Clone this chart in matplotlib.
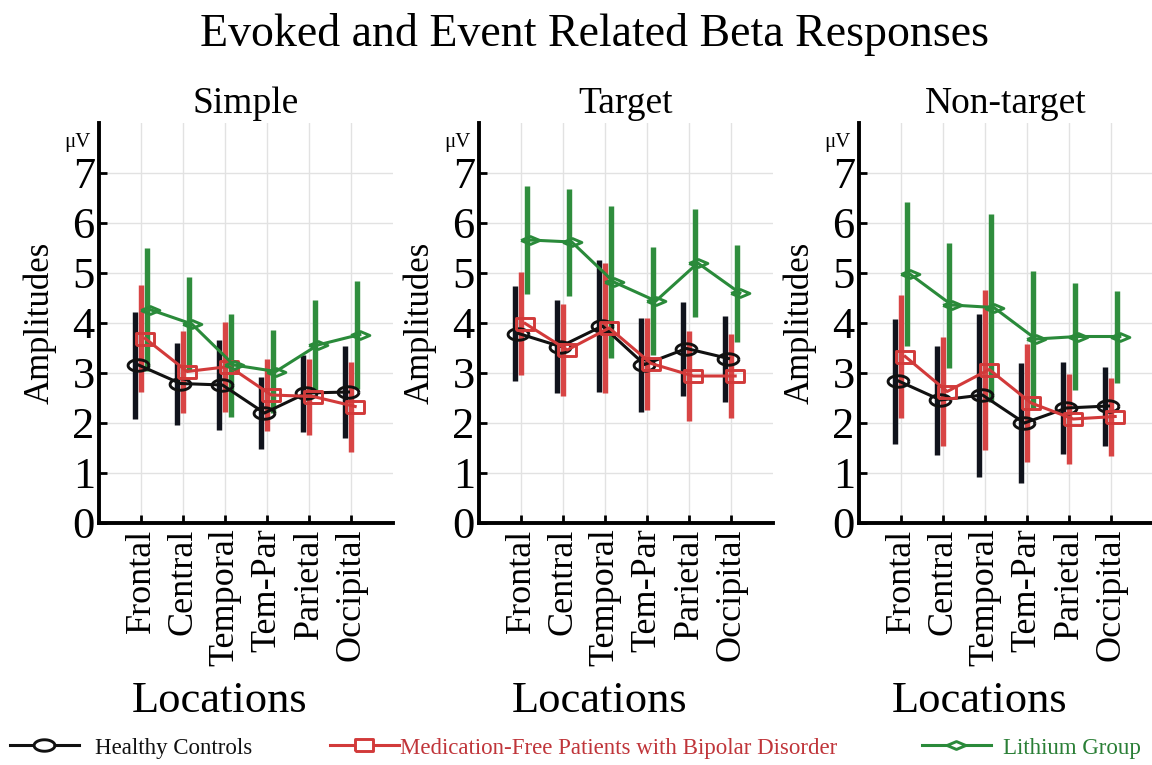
import matplotlib
matplotlib.use("Agg")
import matplotlib.pyplot as plt
import numpy as np
from matplotlib.lines import Line2D

plt.rcParams['font.family'] = ['Liberation Serif', 'DejaVu Serif']

locations = ["Frontal", "Central", "Temporal", "Tem-Par", "Parietal", "Occipital"]
conditions = ["Simple", "Target", "Non-target"]
groups = ["Healthy Controls", "Medication-Free Patients with Bipolar Disorder", "Lithium Group"]

# mean amplitude (uV) and error per condition (rows) and location (cols)
hc_mean = [[3.16, 2.79, 2.76, 2.20, 2.60, 2.62],
           [3.79, 3.53, 3.94, 3.17, 3.49, 3.29],
           [2.84, 2.46, 2.56, 2.00, 2.30, 2.34]]
hc_err = [[1.07, 0.82, 0.90, 0.72, 0.77, 0.92],
          [0.95, 0.93, 1.32, 0.94, 0.94, 0.86],
          [1.25, 1.09, 1.63, 1.20, 0.92, 0.79]]

mf_mean = [[3.69, 3.03, 3.13, 2.56, 2.53, 2.33],
           [3.99, 3.46, 3.90, 3.19, 2.94, 2.94],
           [3.33, 2.63, 3.07, 2.40, 2.08, 2.13]]
mf_err = [[1.07, 0.82, 0.90, 0.72, 0.76, 0.90],
          [1.03, 0.92, 1.30, 0.92, 0.90, 0.84],
          [1.23, 1.09, 1.60, 1.18, 0.90, 0.78]]

li_mean = [[4.27, 3.98, 3.16, 3.03, 3.56, 3.77],
           [5.66, 5.62, 4.82, 4.44, 5.20, 4.60],
           [4.98, 4.36, 4.31, 3.68, 3.73, 3.73]]
li_err = [[1.23, 0.94, 1.03, 0.83, 0.90, 1.08],
          [1.08, 1.07, 1.52, 1.08, 1.08, 0.97],
          [1.44, 1.25, 1.88, 1.37, 1.07, 0.92]]

colors = ["#111111", "#d23a3a", "#2a8a3a"]
bar_colors = ["#10131c", "#d84545", "#2f8d3d"]
text_colors = ["#111111", "#c0353a", "#2a7f36"]

# flattened open markers
t = np.linspace(0, 2 * np.pi, 40)
ellipse = list(zip(np.cos(t), 0.55 * np.sin(t)))
rect = [(-1, -0.62), (1, -0.62), (1, 0.62), (-1, 0.62), (-1, -0.62)]
diamond = [(-1, 0), (0, -0.42), (1, 0), (0, 0.42), (-1, 0)]
markers = [ellipse, rect, diamond]
msizes = [15, 13.5, 13.5]

bar_off = [-0.15, 0.0, 0.15]
line_off = [-0.06, 0.10, 0.21]

fig = plt.figure(figsize=(11.52, 7.65), dpi=100)
fig.text(595 / 1152, 1 - 35 / 765, "Evoked and Event Related Beta Responses",
         ha="center", va="center", fontsize=33)

lefts = [99, 479, 859]
x = np.arange(1, len(locations) + 1)

for k, cond in enumerate(conditions):
    ax = fig.add_axes([lefts[k] / 1152, 1 - 523 / 765, 294 / 1152, 400 / 765])
    means = [hc_mean[k], mf_mean[k], li_mean[k]]
    errs = [hc_err[k], mf_err[k], li_err[k]]

    for g in range(3):
        ax.errorbar(x + bar_off[g], means[g], yerr=errs[g], fmt="none",
                    ecolor=bar_colors[g], elinewidth=3.9, capsize=0, zorder=2 + g)
    for g in range(3):
        ax.plot(x + line_off[g], means[g], color=colors[g], lw=2.2,
                marker=markers[g], ms=msizes[g], mfc="none", mec=colors[g],
                mew=2.1, zorder=6 + g)

    ax.set_xlim(0, 7)
    ax.set_ylim(0, 8)
    ax.set_xticks(x)
    ax.set_xticklabels(locations, rotation=90, fontsize=26)
    ax.set_yticks(range(8))
    ax.set_yticklabels([str(v) for v in range(8)], fontsize=32)
    ax.tick_params(direction="in", length=6, width=2, pad=4)
    ax.tick_params(axis="y", pad=3)
    ax.grid(True, color="#e2e2e2", lw=1)
    ax.set_axisbelow(True)
    for s in ["top", "right"]:
        ax.spines[s].set_visible(False)
    for s in ["left", "bottom"]:
        ax.spines[s].set_linewidth(2.8)

    ax.set_title(cond, fontsize=27, pad=7)
    ax.set_ylabel("Amplitudes", fontsize=25)
    ax.yaxis.set_label_coords(-0.145, 0.5)
    ax.set_xlabel("Locations", fontsize=32)
    ax.xaxis.set_label_coords(0.41, -0.395)
    ax.text(-0.075, 7.6, "\u03bcV", transform=ax.get_yaxis_transform(),
            ha="center", va="center", fontsize=15)

# legend along the bottom
leg_x = [10, 330, 922]
pads = [0.7, 0.05, 0.55]
for g in range(3):
    h = Line2D([], [], color=colors[g], lw=2.2, marker=markers[g], ms=msizes[g],
               mfc="white", mec=colors[g], mew=2.1)
    fig.legend(handles=[h], labels=[groups[g]], loc="center left",
               bbox_to_anchor=(leg_x[g] / 1152, 1 - 748 / 765), frameon=False,
               fontsize=16.5, handlelength=3.0, handletextpad=pads[g],
               borderpad=0, borderaxespad=0, labelcolor=text_colors[g])

fig.savefig("out.png", dpi=100)
